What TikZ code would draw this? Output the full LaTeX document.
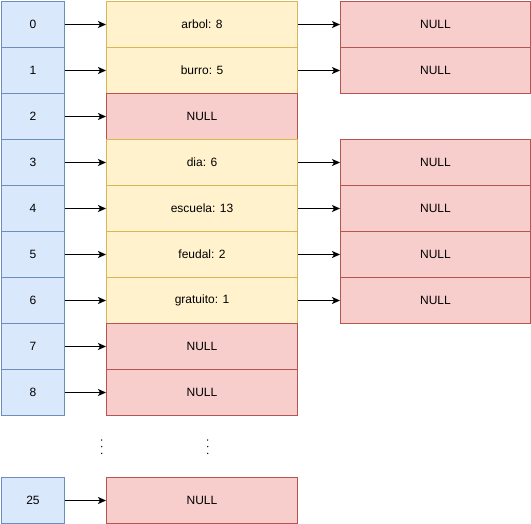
\documentclass[tikz,border=0pt]{standalone}
\usepackage{fontspec}
\setmainfont{Liberation Sans}
\usetikzlibrary{arrows.meta}
\definecolor{bfill}{HTML}{DAE8FC}\definecolor{bdraw}{HTML}{6C8EBF}
\definecolor{yfill}{HTML}{FFF2CC}\definecolor{ydraw}{HTML}{D6B656}
\definecolor{rfill}{HTML}{F8CECC}\definecolor{rdraw}{HTML}{B85450}
\tikzset{
  cell/.style={draw, line width=1pt, anchor=north west, minimum height=46pt, inner sep=0pt, font=\fontsize{12}{14}\selectfont},
  idx/.style={cell, fill=bfill, draw=bdraw, minimum width=63pt},
  entry/.style={cell, fill=yfill, draw=ydraw, minimum width=191pt},
  nul/.style={cell, fill=rfill, draw=rdraw, minimum width=191pt},
  nul2/.style={cell, fill=rfill, draw=rdraw, minimum width=190pt},
  link/.style={-{Stealth[length=8pt,width=7pt,inset=2pt]}, line width=1pt},
  dot/.style={circle, fill=black, inner sep=0pt, minimum size=1.5pt}
}
\begin{document}
\begin{tikzpicture}[x=1pt,y=-1pt]
\useasboundingbox (0,0) rectangle (531,524);
% index column
\foreach \i in {0,...,8} {
  \node[idx] (i\i) at (1,{1+46*\i}) {\i};
}
\node[idx] (i25) at (1,477) {25};
% middle column
\node[entry] (m0) at (106,1) {arbol: 8};
\node[entry] (m1) at (106,47) {burro: 5};
\node[nul] (m2) at (106,93) {NULL};
\node[entry] (m3) at (106,139) {dia: 6};
\node[entry] (m4) at (106,185) {escuela: 13};
\node[entry] (m5) at (106,231) {feudal: 2};
\node[entry] (m6) at (106,277) {gratuito: 1};
\node[nul] (m7) at (106,323) {NULL};
\node[nul] (m8) at (106,369) {NULL};
\node[nul] (m25) at (106,477) {NULL};
% right column
\foreach \i in {0,1,3,4,5,6} {
  \node[nul2] (r\i) at (340,{1+46*\i}) {NULL};
}
% links
\foreach \i in {0,...,8,25} {
  \draw[link] (i\i) -- (m\i);
}
\foreach \i in {0,1,3,4,5,6} {
  \draw[link] (m\i) -- (r\i);
}
% ellipsis
\foreach \x/\n in {101.7/a,207.7/b} {
  \node[dot] (\n1) at (\x,440) {};
  \node[dot] (\n2) at (\x,446.7) {};
  \node[dot] (\n3) at (\x,453.3) {};
}
\end{tikzpicture}
\end{document}
